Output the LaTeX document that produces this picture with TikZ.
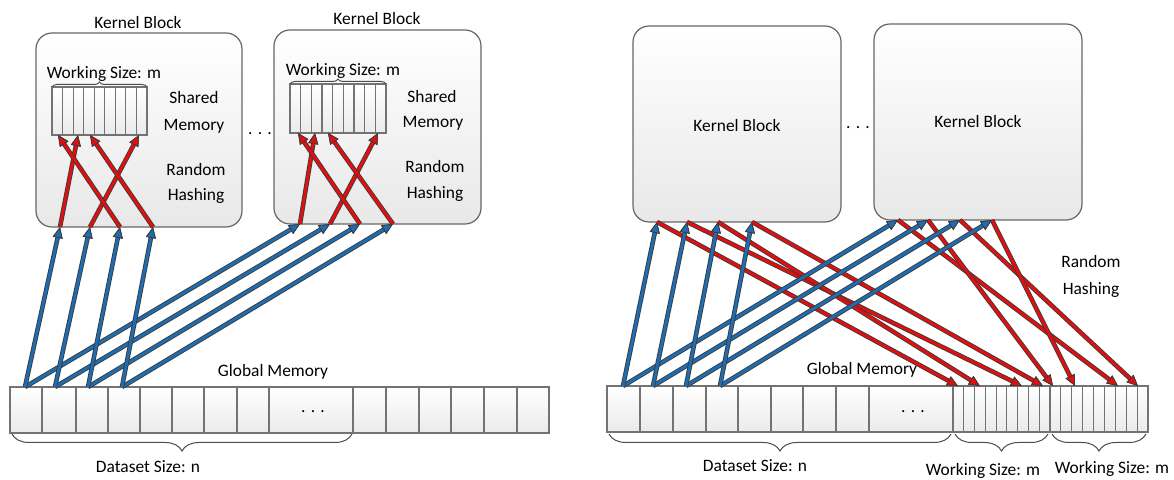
\documentclass[tikz,border=0pt]{standalone}
\usepackage{fontspec}
\setmainfont{Carlito}
\usetikzlibrary{arrows.meta,fit,decorations.pathreplacing}
\definecolor{arrred}{RGB}{228,14,14}
\definecolor{arrblue}{RGB}{30,108,178}
\definecolor{edgec}{RGB}{60,60,60}
\tikzset{
  lbl/.style={font=\fontsize{8.7}{10}\selectfont, inner sep=0, anchor=base},
  kbox/.style={draw=black!60, line width=0.6pt, rounded corners=8pt, top color=white, bottom color=black!9, inner sep=0},
  cell/.style={draw=black!55, line width=0.6pt, top color=white, bottom color=black!8, inner sep=0, outer sep=0},
  brc/.style={decorate, decoration={brace, amplitude=#1}, draw=black!70, line width=0.5pt},
  redarr/.style={draw=arrred, line width=1.4pt,
    -{Triangle[length=5.5pt,width=5pt,fill=arrred,color=edgec,line width=0.4pt]},
    preaction={draw=edgec, line width=2.3pt, -{Triangle[length=5.5pt,width=5pt,fill=edgec,color=edgec,line width=0.4pt]}}},
  bluearr/.style={draw=arrblue, line width=1.4pt,
    -{Triangle[length=5.5pt,width=5pt,fill=arrblue,color=edgec,line width=0.4pt]},
    preaction={draw=edgec, line width=2.3pt, -{Triangle[length=5.5pt,width=5pt,fill=edgec,color=edgec,line width=0.4pt]}}},
}
\begin{document}
\begin{tikzpicture}[x=0.5pt,y=-0.5pt]
\useasboundingbox (0,0) rectangle (1174,480);

% ================= LEFT PANEL =================
\node[kbox, fit={(36,33) (242,227)}] (K1) {};
\node[kbox, fit={(274,30) (481,224)}] (K2) {};
\node[lbl] (K1t) at (138,29) {Kernel Block};
\node[lbl] (K2t) at (377,25) {Kernel Block};
\node[lbl] (dotsL) at (260,135) {. . .};

% shared memory arrays
\foreach \i in {1,...,9}{
  \node[cell, fit={({52+(\i-1)*95/9},87) ({52+\i*95/9},135)}] (sa\i) {};
  \node[cell, fit={({290+(\i-1)*96/9},84) ({290+\i*96/9},133)}] (sb\i) {};
}
\draw[brc=2.5pt] (sa1.north west) -- (sa9.north east);
\draw[brc=2.5pt] (sb1.north west) -- (sb9.north east);
\node[lbl] (wsa) at (104,79) {Working Size: m};
\node[lbl] (wsb) at (343,76) {Working Size: m};
\node[lbl] (sm1a) at (194,104) {Shared};
\node[lbl] (sm1b) at (194,131) {Memory};
\node[lbl] (rh1a) at (196,176) {Random};
\node[lbl] (rh1b) at (196,201) {Hashing};
\node[lbl] (sm2a) at (432,103) {Shared};
\node[lbl] (sm2b) at (433,128) {Memory};
\node[lbl] (rh2a) at (435,173) {Random};
\node[lbl] (rh2b) at (435,199) {Hashing};

% global memory (left)
\foreach \a/\b [count=\i] in {10/42,42/76,76/108,108/140,140/172,172/204,204/237,237/269,269/353,353/386,386/419,419/451,451/484,484/517,517/549}{
  \node[cell, fit={(\a,387) (\b,433)}] (gl-\i) {};
}
\node[lbl] (gldots) at (313,413) {. . .};
\node[lbl] (glt) at (273,377) {Global Memory};
\draw[brc=8.5pt] (352,434) -- (12,434);
\node[lbl] (dsl) at (148,473) {Dataset Size: n};

% coordinates
\foreach \i/\x in {1/25,2/55,3/88,4/122} \coordinate (gs\i) at (\x,387);
\foreach \i/\x in {1/60,2/90,3/120,4/153} \coordinate (k1b\i) at (\x,227);
\foreach \i/\x in {1/300,2/330,3/360,4/393} \coordinate (k2b\i) at (\x,224);
\foreach \i/\x in {1/58,2/78,3/90,4/139} \coordinate (s1e\i) at (\x,135);
\foreach \i/\x in {1/298,2/315,3/328,4/378} \coordinate (s2e\i) at (\x,133);

% red (random hashing) arrows, left
\draw[redarr] (k1b1) -- (s1e2);
\draw[redarr] (k1b2) -- (s1e4);
\draw[redarr] (k1b3) -- (s1e1);
\draw[redarr] (k1b4) -- (s1e3);
\draw[redarr] (k2b1) -- (s2e2);
\draw[redarr] (k2b2) -- (s2e4);
\draw[redarr] (k2b3) -- (s2e1);
\draw[redarr] (k2b4) -- (s2e3);

% blue arrows, left
\foreach \i in {1,...,4} \draw[bluearr] (gs\i) -- (k2b\i);
\foreach \i in {1,...,4} \draw[bluearr] (gs\i) -- (k1b\i);

% ================= RIGHT PANEL =================
\node[kbox, fit={(633,26) (841,222)}] (K3) {};
\node[kbox, fit={(874,24) (1082,220)}] (K4) {};
\node[lbl] (K3t) at (737,132) {Kernel Block};
\node[lbl] (K4t) at (978,128) {Kernel Block};
\node[lbl] (dotsR) at (858,129) {. . .};

\foreach \a/\b [count=\i] in {607/640,640/673,673/706,706/738,738/771,771/803,803/836,836/869,869/953}{
  \node[cell, fit={(\a,386) (\b,432)}] (gr-\i) {};
}
\foreach \i in {1,...,9}{
  \node[cell, fit={({953+(\i-1)*97/9},386) ({953+\i*97/9},432)}] (wa\i) {};
  \node[cell, fit={({1050+(\i-1)*98/9},386) ({1050+\i*98/9},432)}] (wb\i) {};
}
\node[lbl] (grdots) at (913,413) {. . .};
\node[lbl] (grt) at (862,375) {Global Memory};
\draw[brc=8.5pt] (951,434) -- (609,434);
\draw[brc=8.5pt] (1048,434) -- (955,434);
\draw[brc=8.5pt] (1146,434) -- (1052,434);
\node[lbl] (dsr) at (755,472) {Dataset Size: n};
\node[lbl] (wsr1) at (983,476) {Working Size: m};
\node[lbl] (wsr2) at (1112,474) {Working Size: m};
\node[lbl] (rh3a) at (1091,268) {Random};
\node[lbl] (rh3b) at (1091,295) {Hashing};

\foreach \i/\x in {1/623,2/653,3/686,4/720} \coordinate (hs\i) at (\x,386);
\foreach \i/\x in {1/657,2/687,3/718,4/752} \coordinate (k3b\i) at (\x,222);
\foreach \i/\x in {1/898,2/928,3/960,4/992} \coordinate (k4b\i) at (\x,220);
\foreach \i/\x in {1/958,2/980,3/1022,4/1043,5/1053,6/1075,7/1118,8/1138} \coordinate (we\i) at (\x,386);

% red arrows, right
\draw[redarr] (k3b1) -- (we1);
\draw[redarr] (k3b2) -- (we3);
\draw[redarr] (k3b3) -- (we2);
\draw[redarr] (k3b4) -- (we4);
\draw[redarr] (k4b1) -- (we7);
\draw[redarr] (k4b2) -- (we5);
\draw[redarr] (k4b3) -- (we8);
\draw[redarr] (k4b4) -- (we6);

% blue arrows, right
\foreach \i in {1,...,4} \draw[bluearr] (hs\i) -- (k4b\i);
\foreach \i in {1,...,4} \draw[bluearr] (hs\i) -- (k3b\i);
\end{tikzpicture}
\end{document}
